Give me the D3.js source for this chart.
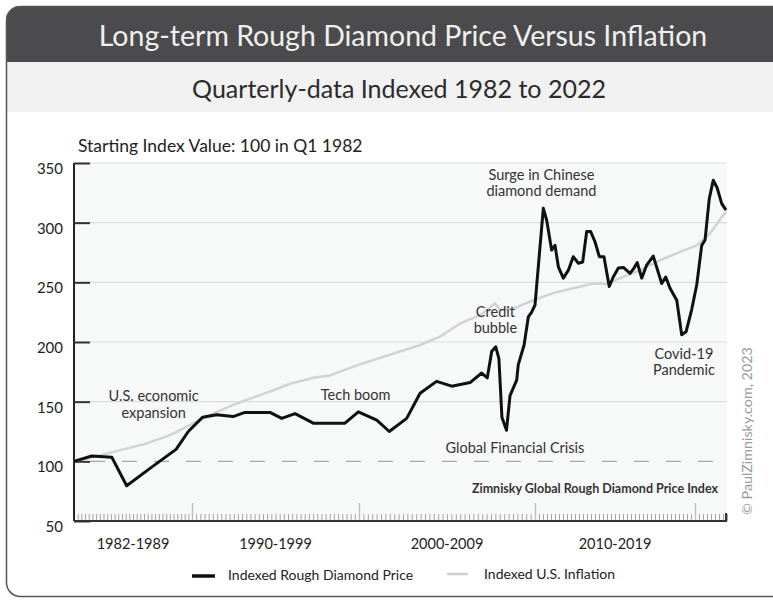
<!DOCTYPE html>
<html lang="en">
<head>
<meta charset="UTF-8">
<title>Long-term Rough Diamond Price Versus Inflation</title>
<script src="https://cdn.jsdelivr.net/npm/d3@7/dist/d3.min.js"></script>
<style>
    body { margin: 0; padding: 0; background: #ffffff; }
    svg { display: block; font-family: Lato, "Open Sans", sans-serif; }
</style>
</head>
<body>
<div id="chart"></div>
<script>
    // diamond price index, [year, value]
    const diamondPrice = [
        [1982.00, 100], [1983.20, 104.5], [1984.56, 103.5], [1985.57, 79.5], [1987.36, 96],
        [1988.92, 110], [1989.75, 125], [1990.64, 137], [1991.48, 139], [1992.46, 137.5],
        [1993.17, 141], [1994.67, 141], [1995.37, 136], [1996.17, 140], [1997.26, 132],
        [1999.16, 132], [1999.96, 141.5], [2001.01, 134.5], [2001.72, 125], [2002.71, 136],
        [2003.47, 157], [2004.41, 167], [2005.27, 163], [2006.31, 166], [2006.97, 174],
        [2007.29, 170], [2007.54, 192], [2007.77, 196], [2007.95, 186], [2008.12, 137],
        [2008.38, 126], [2008.58, 155], [2008.96, 168], [2009.05, 181], [2009.38, 197.5],
        [2009.62, 221], [2009.81, 225], [2010.00, 231], [2010.52, 312], [2010.73, 302],
        [2011.04, 277], [2011.25, 281], [2011.46, 263], [2011.77, 253.5], [2012.08, 260],
        [2012.39, 271.5], [2012.71, 266], [2012.98, 267], [2013.23, 292.5], [2013.48, 292.5],
        [2013.75, 284], [2014.02, 271.5], [2014.31, 271.5], [2014.64, 246.5], [2014.89, 254.5],
        [2015.21, 262], [2015.52, 262.5], [2015.94, 257.5], [2016.14, 261], [2016.39, 266.5],
        [2016.67, 253.5], [2016.98, 264.5], [2017.39, 272], [2017.92, 249], [2018.17, 254.5],
        [2018.44, 245], [2018.86, 235], [2019.17, 206], [2019.44, 208.5], [2019.79, 227],
        [2020.11, 248], [2020.42, 281], [2020.63, 285.5], [2020.89, 320], [2021.14, 335.5],
        [2021.39, 329], [2021.67, 316], [2021.94, 310.5]
    ];

    // U.S. inflation index, [year, value]
    const usInflation = [
        [1982.00, 100], [1983.76, 105], [1985.34, 110], [1986.93, 115], [1988.51, 122],
        [1989.64, 129], [1991.08, 139], [1992.68, 148.5], [1994.67, 158.5], [1995.87, 165],
        [1997.26, 170], [1998.26, 172], [2000.00, 181], [2002.33, 192], [2003.47, 197.5],
        [2004.60, 204.5], [2005.74, 215.5], [2006.88, 222.5], [2007.73, 232.5], [2008.01, 227],
        [2008.77, 228], [2009.90, 235], [2011.14, 241], [2012.39, 245], [2013.64, 249],
        [2014.48, 248.5], [2015.31, 253.5], [2016.56, 260], [2017.81, 268.5], [2019.06, 275.5],
        [2020.11, 281], [2020.94, 291], [2021.77, 306.5], [2021.94, 309]
    ];

    const yTicks = [50, 100, 150, 200, 250, 300, 350];
    const decadeBreaks = [1982, 1990, 2000, 2010, 2020, 2022];
    const decadeLabels = [
        { from: 1982, to: 1990, label: "1982-1989" },
        { from: 1990, to: 2000, label: "1990-1999" },
        { from: 2000, to: 2010, label: "2000-2009" },
        { from: 2010, to: 2020, label: "2010-2019" }
    ];
    const quarters = d3.range(1982, 2022.01, 0.25);

    const annotations = [
        { year: 1987.4, value: 150.5, lines: ["U.S. economic", "expansion"] },
        { year: 1999.8, value: 151.5, lines: ["Tech boom"] },
        { year: 2008.86, value: 107, lines: ["Global Financial Crisis"] },
        { year: 2007.75, value: 221, lines: ["Credit", "bubble"] },
        { year: 2010.4, value: 336, lines: ["Surge in Chinese", "diamond demand"] },
        { year: 2019.31, value: 186, lines: ["Covid-19", "Pandemic"] }
    ];

    const width = 773, height = 600;
    const plot = { left: 74, right: 727, top: 163, bottom: 521 };

    const svg = d3.select("#chart").append("svg")
        .attr("width", width)
        .attr("height", height);

    // frame with header bands
    svg.append("clipPath").attr("id", "frameClip")
        .append("rect")
        .attr("x", 6).attr("y", 6).attr("width", 800).attr("height", 591).attr("rx", 14);

    const frame = svg.append("g").attr("clip-path", "url(#frameClip)");
    frame.append("rect").attr("x", 6).attr("y", 6).attr("width", 800).attr("height", 591).attr("fill", "#ffffff");
    frame.append("rect").attr("x", 6).attr("y", 6).attr("width", 800).attr("height", 56).attr("fill", "#4b4b4d");
    frame.append("rect").attr("x", 6).attr("y", 62).attr("width", 800).attr("height", 50).attr("fill", "#f1f1f1");

    svg.append("rect")
        .attr("x", 6.5).attr("y", 6.5).attr("width", 800).attr("height", 590).attr("rx", 14)
        .attr("fill", "none").attr("stroke", "#555").attr("stroke-width", 1.5);

    svg.append("text")
        .attr("x", 403).attr("y", 46)
        .attr("text-anchor", "middle")
        .attr("fill", "#efefef")
        .attr("font-size", 28.5)
        .text("Long-term Rough Diamond Price Versus Inflation");

    svg.append("text")
        .attr("x", 399).attr("y", 98)
        .attr("text-anchor", "middle")
        .attr("fill", "#2b2b2b")
        .attr("font-size", 25)
        .text("Quarterly-data Indexed 1982 to 2022");

    // scales
    const x = d3.scaleLinear()
        .domain(decadeBreaks)
        .range([plot.left, 192, 359, 535, 695, plot.right]);

    const y = d3.scaleLinear()
        .domain([50, 350])
        .range([plot.bottom, plot.top]);

    // plot background
    svg.append("rect")
        .attr("x", plot.left).attr("y", plot.top)
        .attr("width", plot.right - plot.left).attr("height", plot.bottom - plot.top)
        .attr("fill", "#f7f8f8");

    // gridlines
    svg.append("g")
        .selectAll("line")
        .data(yTicks.filter(d => d > 100))
        .join("line")
        .attr("x1", plot.left).attr("x2", plot.right)
        .attr("y1", d => y(d)).attr("y2", d => y(d))
        .attr("stroke", "#dcdcdc").attr("stroke-width", 1.2);

    // dashed baseline at 100
    svg.append("line")
        .attr("x1", plot.left + 16).attr("x2", plot.right)
        .attr("y1", y(100)).attr("y2", y(100))
        .attr("stroke", "#a8a8a8").attr("stroke-width", 1.3)
        .attr("stroke-dasharray", "15,17");

    // x minor (quarterly) and decade ticks
    svg.append("g").attr("transform", `translate(0,${plot.bottom})`)
        .call(d3.axisBottom(x).tickValues(quarters).tickSize(-7).tickFormat(""))
        .call(g => g.select(".domain").remove())
        .call(g => g.selectAll(".tick line").attr("stroke", "#a5a5a5").attr("stroke-width", 1));
    svg.append("g").attr("transform", `translate(0,${plot.bottom})`)
        .call(d3.axisBottom(x).tickValues(decadeBreaks.slice(1, 5)).tickSize(-18).tickFormat(""))
        .call(g => g.select(".domain").remove())
        .call(g => g.selectAll(".tick line").attr("stroke", "#bdbdbd").attr("stroke-width", 1.3));

    svg.append("line")
        .attr("x1", plot.left).attr("x2", plot.right)
        .attr("y1", plot.bottom).attr("y2", plot.bottom)
        .attr("stroke", "#333").attr("stroke-width", 2);
    svg.append("line")
        .attr("x1", plot.right - 1).attr("x2", plot.right - 1)
        .attr("y1", plot.bottom).attr("y2", plot.bottom - 8)
        .attr("stroke", "#333").attr("stroke-width", 2);

    svg.append("g")
        .selectAll("text")
        .data(decadeLabels)
        .join("text")
        .attr("x", d => (x(d.from) + x(d.to)) / 2)
        .attr("y", 549)
        .attr("text-anchor", "middle")
        .attr("font-size", 14.5)
        .attr("fill", "#222")
        .text(d => d.label);

    // y axis
    const yAxis = svg.append("g").attr("transform", `translate(${plot.left},0)`)
        .call(d3.axisRight(y).tickValues(yTicks).tickSize(16).tickFormat(""));
    yAxis.select(".domain").attr("stroke", "#222").attr("stroke-width", 2)
        .attr("d", `M0,${plot.top}V${plot.bottom}`);
    yAxis.selectAll(".tick line").attr("stroke", "#333").attr("stroke-width", 2);

    svg.append("g")
        .selectAll("text")
        .data(yTicks)
        .join("text")
        .attr("x", 63)
        .attr("y", d => y(d) + 11)
        .attr("text-anchor", "end")
        .attr("font-size", 15)
        .attr("fill", "#222")
        .text(d => d);

    // lines
    const line = d3.line().x(d => x(d[0])).y(d => y(d[1]));

    svg.append("path")
        .datum(usInflation)
        .attr("d", line)
        .attr("fill", "none")
        .attr("stroke", "#d3d3d3")
        .attr("stroke-width", 2.5)
        .attr("stroke-linejoin", "round");

    svg.append("path")
        .datum(diamondPrice)
        .attr("d", line)
        .attr("fill", "none")
        .attr("stroke", "#111")
        .attr("stroke-width", 3)
        .attr("stroke-linejoin", "round");

    // annotations
    const notes = svg.append("g")
        .selectAll("text")
        .data(annotations)
        .join("text")
        .attr("text-anchor", "middle")
        .attr("font-size", 14.5)
        .attr("fill", "#333");
    notes.each(function(d) {
        const t = d3.select(this);
        d.lines.forEach((l, i) => {
            t.append("tspan")
                .attr("x", x(d.year))
                .attr("y", y(d.value) + i * 16.5)
                .text(l);
        });
    });

    svg.append("text")
        .attr("x", 78).attr("y", 152)
        .attr("font-size", 17.5)
        .attr("fill", "#222")
        .text("Starting Index Value: 100 in Q1 1982");

    svg.append("text")
        .attr("x", 718).attr("y", 493)
        .attr("text-anchor", "end")
        .attr("font-size", 12.5)
        .attr("font-weight", 700)
        .attr("fill", "#333")
        .text("Zimnisky Global Rough Diamond Price Index");

    svg.append("text")
        .attr("transform", "translate(752,515) rotate(-90)")
        .attr("font-size", 14.3)
        .attr("fill", "#9a9a9a")
        .text("\u00a9 PaulZimnisky.com, 2023");

    // legend
    const legend = svg.append("g");
    legend.append("line").attr("x1", 192).attr("x2", 215).attr("y1", 576).attr("y2", 576)
        .attr("stroke", "#111").attr("stroke-width", 3.5);
    legend.append("text").attr("x", 228).attr("y", 580).attr("font-size", 14).attr("fill", "#222")
        .text("Indexed Rough Diamond Price");
    legend.append("line").attr("x1", 447).attr("x2", 468).attr("y1", 574).attr("y2", 574)
        .attr("stroke", "#cfcfcf").attr("stroke-width", 2.5);
    legend.append("text").attr("x", 484).attr("y", 579).attr("font-size", 14).attr("fill", "#222")
        .text("Indexed U.S. Inflation");
</script>
</body>
</html>
